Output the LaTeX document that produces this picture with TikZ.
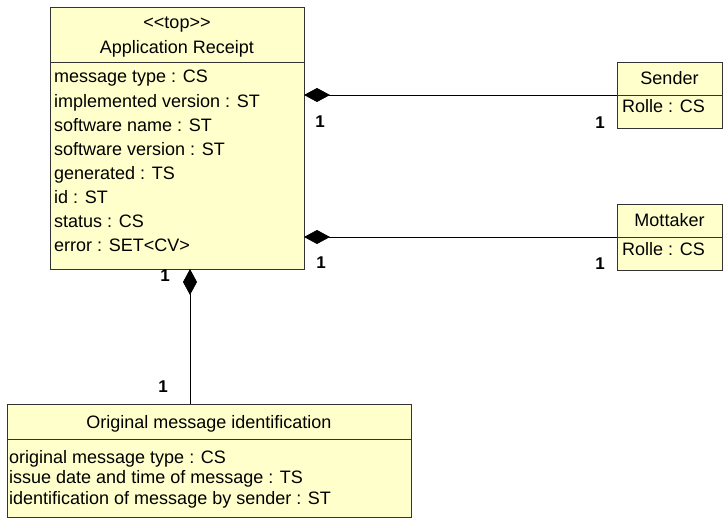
\documentclass[tikz,border=0pt]{standalone}
\usepackage{fontspec}
\setmainfont{Liberation Sans}
\usetikzlibrary{arrows.meta}
\definecolor{boxfill}{HTML}{FFFFCC}
\definecolor{boxline}{HTML}{333333}
\begin{document}
\begin{tikzpicture}[x=1pt,y=-1pt,
  box/.style={draw=boxline, fill=boxfill, line width=0.9pt, inner sep=0pt, outer sep=0pt, anchor=north west},
  txt/.style={font=\fontsize{18}{22}\selectfont, inner sep=0pt},
  attr/.style={txt, anchor=base west},
  ttl/.style={txt, anchor=base},
  mult/.style={inner sep=0pt, font=\fontsize{17}{20}\selectfont\bfseries, anchor=center},
  comp/.style={draw=black, line width=0.8pt, {Diamond[length=26pt,width=14pt]}-}
]
\useasboundingbox (0,0) rectangle (726,518);

% Application Receipt
\node[box, minimum width=254pt, minimum height=55pt] (ARH) at (50,7) {};
\node[box, minimum width=254pt, minimum height=207pt] (ARA) at (50,62) {};
\node[ttl] (art1) at (177,29) {<{}<top>{}>};
\node[ttl] (art2) at (177,54) {Application Receipt};
\foreach \t [count=\i from 0] in {message type : CS, implemented version : ST, software name : ST, software version : ST, generated : TS, id : ST, status : CS, error : SET<CV>}
  \node[attr] (ara\i) at (54,{83+24.14*\i}) {\t};

% Sender
\node[box, minimum width=105pt, minimum height=33pt] (SH) at (617,62) {};
\node[box, minimum width=105pt, minimum height=33pt] (SA) at (617,95) {};
\node[ttl] (st) at (669.5,85) {Sender};
\node[attr] (sa) at (622,113) {Rolle : CS};

% Mottaker
\node[box, minimum width=105pt, minimum height=33pt] (MH) at (617,204) {};
\node[box, minimum width=105pt, minimum height=33pt] (MA) at (617,237) {};
\node[ttl] (mt) at (669.5,227) {Mottaker};
\node[attr] (ma) at (622,256) {Rolle : CS};

% Original message identification
\node[box, minimum width=404pt, minimum height=35pt] (OH) at (7,404) {};
\node[box, minimum width=404pt, minimum height=78pt] (OA) at (7,439) {};
\node[ttl] (ot) at (209,429) {Original message identification};
\node[attr] (oa1) at (9,464) {original message type : CS};
\node[attr] (oa2) at (9,484) {issue date and time of message : TS};
\node[attr] (oa3) at (9,504) {identification of message by sender : ST};

% connectors
\draw[comp] (ARA.east |- SH.south west) -- (SH.south west);
\draw[comp] (ARA.east |- MH.south west) -- (MH.south west);
\coordinate (bx) at (190,300);
\draw[comp] (ARA.south -| bx) -- (OH.north -| bx);

% multiplicities
\node[mult] (m1) at (320,122) {1};
\node[mult] (m2) at (600,123) {1};
\node[mult] (m3) at (321,263) {1};
\node[mult] (m4) at (600,264) {1};
\node[mult] (m5) at (165,276) {1};
\node[mult] (m6) at (163,387) {1};
\end{tikzpicture}
\end{document}
